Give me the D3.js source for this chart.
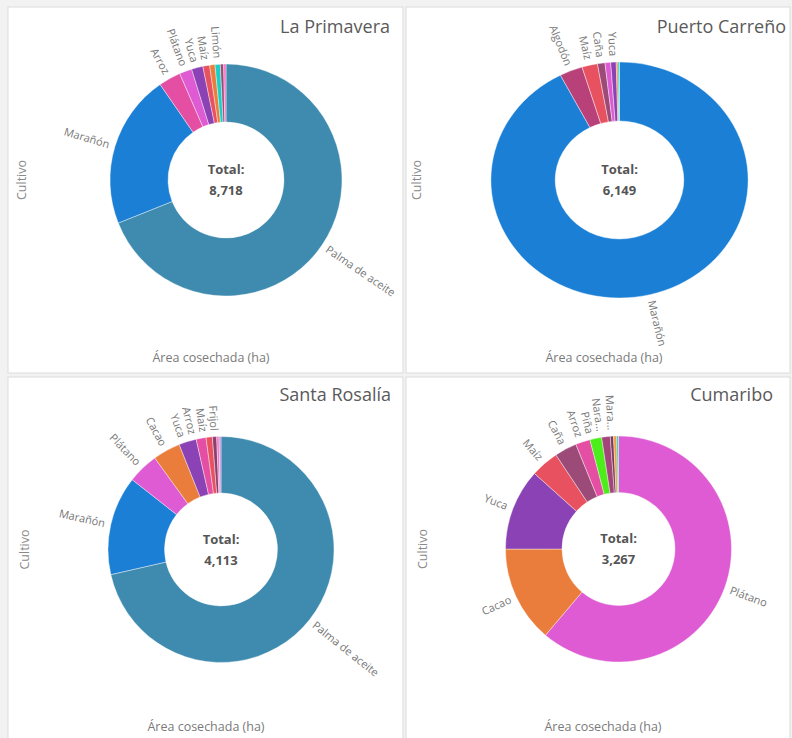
<!DOCTYPE html>
<html>
<head>
<meta charset="utf-8">
<script src="https://cdn.jsdelivr.net/npm/d3@7"></script>
<style>
  body { margin: 0; background: #f2f2f2; font-family: "Open Sans", sans-serif; }
</style>
</head>
<body>
<div id="chart"></div>
<script>
// Área cosechada (ha) por cultivo en cuatro municipios

// One colour per crop, shared by all four donuts
const cropNames = ["Palma de aceite", "Marañón", "Arroz", "Plátano", "Yuca", "Maíz", "Cacao", "Limón",
  "Caña", "Algodón", "Frijol", "Piña", "Naranja", "Maracuyá", "Ají", "Patilla", "Mango"];
const cropColors = ["#3e8baf", "#1a7fd5", "#e44fa4", "#de5bd3", "#8a42b4", "#e8515f", "#ea7d3c", "#1ccfc5",
  "#9c4b78", "#b8417a", "#8d3f6e", "#4ded1c", "#a3457a", "#7d3a5c", "#f472c0", "#c38be0", "#f0a040"];

const municipalities = ["La Primavera", "Puerto Carreño", "Santa Rosalía", "Cumaribo"];

const primaveraCrops = ["Palma de aceite", "Marañón", "Arroz", "Plátano", "Yuca", "Maíz", "Cacao", "Limón", "Caña", "Ají"];
const primaveraArea = [6011, 1869, 269, 152, 138, 82, 65, 64, 40, 28];
const primaveraLabels = ["Palma de aceite", "Marañón", "Arroz", "Plátano", "Yuca", "Maíz", "Limón"];

const carrenoCrops = ["Marañón", "Algodón", "Maíz", "Caña", "Plátano", "Yuca", "Cacao", "Limón"];
const carrenoArea = [5682, 178, 120, 58, 44, 42, 13, 12];
const carrenoLabels = ["Marañón", "Algodón", "Maíz", "Caña", "Yuca"];

const rosaliaCrops = ["Palma de aceite", "Marañón", "Plátano", "Cacao", "Yuca", "Arroz", "Maíz", "Frijol", "Ají", "Patilla"];
const rosaliaArea = [2938, 583, 182, 162, 103, 58, 37, 25, 14, 11];
const rosaliaLabels = ["Palma de aceite", "Marañón", "Plátano", "Cacao", "Yuca", "Arroz", "Maíz", "Frijol"];

const cumariboCrops = ["Plátano", "Cacao", "Yuca", "Maíz", "Caña", "Arroz", "Piña", "Naranja", "Maracuyá", "Mango", "Limón"];
const cumariboArea = [1999, 451, 381, 131, 104, 68, 55, 40, 15, 15, 8];
const cumariboLabels = ["Plátano", "Cacao", "Yuca", "Maíz", "Caña", "Arroz", "Piña", "Naranja", "Maracuyá"];

// Panel layout (screen positions only)
const panels = [
  { x: 8, y: 7, w: 395, h: 366, cx: 226, cy: 180, r: 116, sx: 1, titleX: 390, titleY: 33, yTitleX: 22, xTitleX: 211, xTitleY: 362 },
  { x: 406, y: 7, w: 384, h: 366, cx: 619.5, cy: 180, r: 118, sx: 1.09, titleX: 786, titleY: 33, yTitleX: 417, xTitleX: 604, xTitleY: 362 },
  { x: 8, y: 377, w: 395, h: 370, cx: 221, cy: 549.5, r: 113, sx: 1, titleX: 391, titleY: 401, yTitleX: 25, xTitleX: 206, xTitleY: 731 },
  { x: 406, y: 377, w: 384, h: 370, cx: 618.5, cy: 549, r: 113, sx: 1, titleX: 773, titleY: 401, yTitleX: 423, xTitleX: 603, xTitleY: 731 }
];

const color = d3.scaleOrdinal().domain(cropNames).range(cropColors);
const fmt = d3.format(",");

const svg = d3.select("#chart")
  .append("svg")
  .attr("width", 792)
  .attr("height", 738);

svg.append("rect")
  .attr("width", 792)
  .attr("height", 738)
  .attr("fill", "#f2f2f2");

const datasets = [
  [primaveraCrops, primaveraArea, primaveraLabels],
  [carrenoCrops, carrenoArea, carrenoLabels],
  [rosaliaCrops, rosaliaArea, rosaliaLabels],
  [cumariboCrops, cumariboArea, cumariboLabels]
];

datasets.forEach((ds, i) => drawPanel(municipalities[i], ds[0], ds[1], ds[2], panels[i]));

// truncate long names on very thin slices
function labelText(d) {
  const deg = (d.endAngle - d.startAngle) * 180 / Math.PI;
  const name = d.data.crop;
  if (deg < 4.5 && name.length > 6) return name.slice(0, 4) + "...";
  return name;
}

// spread the labels on the left half so neighbours near the top don't overlap
function spreadLabels(arcs, R) {
  const gap = 11 / R;
  const left = arcs.filter(d => d.mid >= Math.PI).sort((a, b) => b.mid - a.mid);
  let prev = null;
  left.forEach(d => {
    d.la = d.mid;
    if (prev !== null && prev - d.la < gap) d.la = prev - gap;
    prev = d.la;
  });
  arcs.filter(d => d.mid < Math.PI).forEach(d => d.la = d.mid);
}

function drawPanel(title, crops, areas, labels, p) {
  const data = crops.map((c, i) => ({ crop: c, area: areas[i] }));
  const total = d3.sum(areas);

  const g = svg.append("g");

  g.append("rect")
    .attr("x", p.x)
    .attr("y", p.y)
    .attr("width", p.w)
    .attr("height", p.h)
    .attr("fill", "#ffffff")
    .attr("stroke", "#dcdcdc");

  g.append("text")
    .attr("x", p.titleX)
    .attr("y", p.titleY)
    .attr("text-anchor", "end")
    .style("font-size", "18px")
    .style("fill", "#5a5a5a")
    .text(title);

  // axis titles
  g.append("text")
    .attr("transform", "translate(" + p.yTitleX + "," + p.cy + ") rotate(-90)")
    .attr("text-anchor", "middle")
    .attr("dy", "0.35em")
    .style("font-size", "12.5px")
    .style("fill", "#8a8a8a")
    .text("Cultivo");

  g.append("text")
    .attr("x", p.xTitleX)
    .attr("y", p.xTitleY)
    .attr("text-anchor", "middle")
    .style("font-size", "12.5px")
    .style("fill", "#7a7a7a")
    .text("Área cosechada (ha)");

  const pie = d3.pie()
    .sort(null)
    .value(d => d.area);
  const arcs = pie(data);

  const arc = d3.arc()
    .innerRadius(p.r * 0.5)
    .outerRadius(p.r);

  g.append("g")
    .attr("transform", "translate(" + p.cx + "," + p.cy + ") scale(" + p.sx + ",1)")
    .selectAll("path")
    .data(arcs)
    .enter()
    .append("path")
    .attr("d", arc)
    .attr("fill", d => color(d.data.crop))
    .attr("stroke", "#ffffff")
    .attr("stroke-width", 0.4);

  // radial labels
  const R = p.r + 6;
  const shown = arcs.filter(d => labels.includes(d.data.crop));
  shown.forEach(d => d.mid = (d.startAngle + d.endAngle) / 2);
  spreadLabels(shown, R);

  g.selectAll(".lbl")
    .data(shown)
    .enter()
    .append("text")
    .attr("class", "lbl")
    .attr("transform", d => {
      const a = d.la;
      const deg = a * 180 / Math.PI;
      const x = p.cx + p.sx * R * Math.sin(a);
      const y = p.cy - R * Math.cos(a);
      const rot = deg < 180 ? deg - 90 : deg - 270;
      return "translate(" + x + "," + y + ") rotate(" + rot + ")";
    })
    .attr("text-anchor", d => d.la < Math.PI ? "start" : "end")
    .attr("dy", "0.35em")
    .style("font-size", "11px")
    .style("fill", "#777")
    .text(labelText);

  // centre total
  g.append("text")
    .attr("x", p.cx)
    .attr("y", p.cy - 6)
    .attr("text-anchor", "middle")
    .style("font-size", "13px")
    .style("font-weight", "bold")
    .style("fill", "#555")
    .text("Total:");

  g.append("text")
    .attr("x", p.cx)
    .attr("y", p.cy + 15)
    .attr("text-anchor", "middle")
    .style("font-size", "13px")
    .style("font-weight", "bold")
    .style("fill", "#555")
    .text(fmt(total));
}
</script>
</body>
</html>
